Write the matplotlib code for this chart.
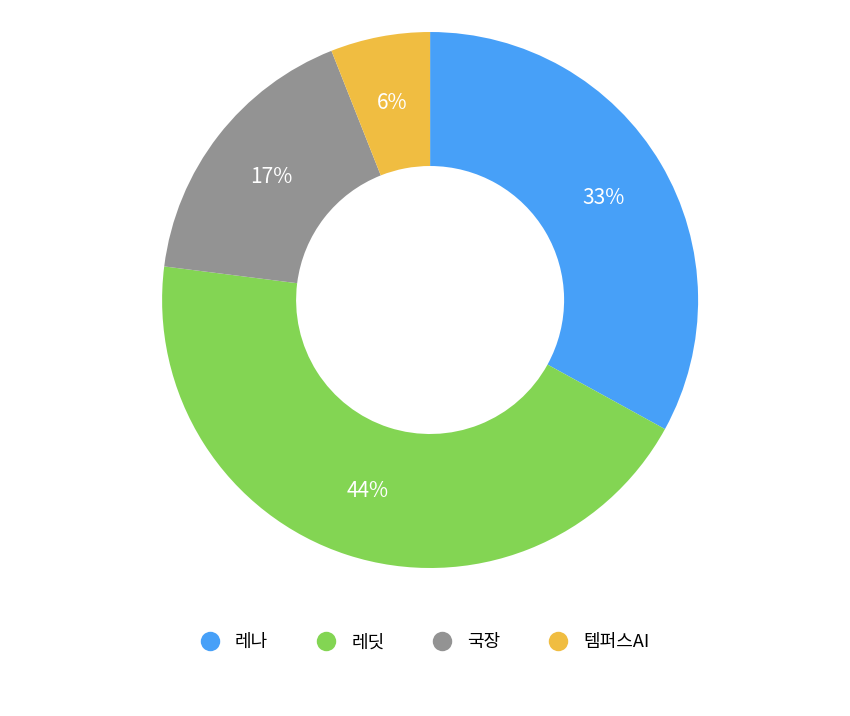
import matplotlib
matplotlib.use("Agg")
import matplotlib.pyplot as plt
from matplotlib.lines import Line2D

plt.rcParams['font.family'] = ['Noto Sans CJK KR', 'DejaVu Sans']

labels = ["레나", "레딧", "국장", "템퍼스AI"]
values = [33, 44, 17, 6]
colors = ["#47A0F8", "#83D553", "#939393", "#F0BD41"]

fig = plt.figure(figsize=(8.5, 7.16), dpi=100)
ax = fig.add_axes([0.506 - 0.3153, 0.581 - 0.3743, 0.6306, 0.7486])

wedges, texts, autotexts = ax.pie(
    values, colors=colors, startangle=90, counterclock=False,
    radius=1.0, wedgeprops=dict(width=0.5, linewidth=0),
    autopct=lambda p: f"{p:.0f}%", pctdistance=0.75,
    textprops=dict(color="white", fontsize=15))
ax.set_xlim(-1, 1)
ax.set_ylim(-1, 1)
ax.set_aspect("equal")
ax.axis("off")

handles = [Line2D([0], [0], marker="o", linestyle="", markersize=14,
                  markerfacecolor=c, markeredgewidth=0) for c in colors]
fig.legend(handles, labels, loc="center", bbox_to_anchor=(0.495, 0.103),
           ncol=4, frameon=False, fontsize=13, handletextpad=0.4,
           columnspacing=2.2)

fig.savefig("out.png", dpi=100, facecolor="white")
